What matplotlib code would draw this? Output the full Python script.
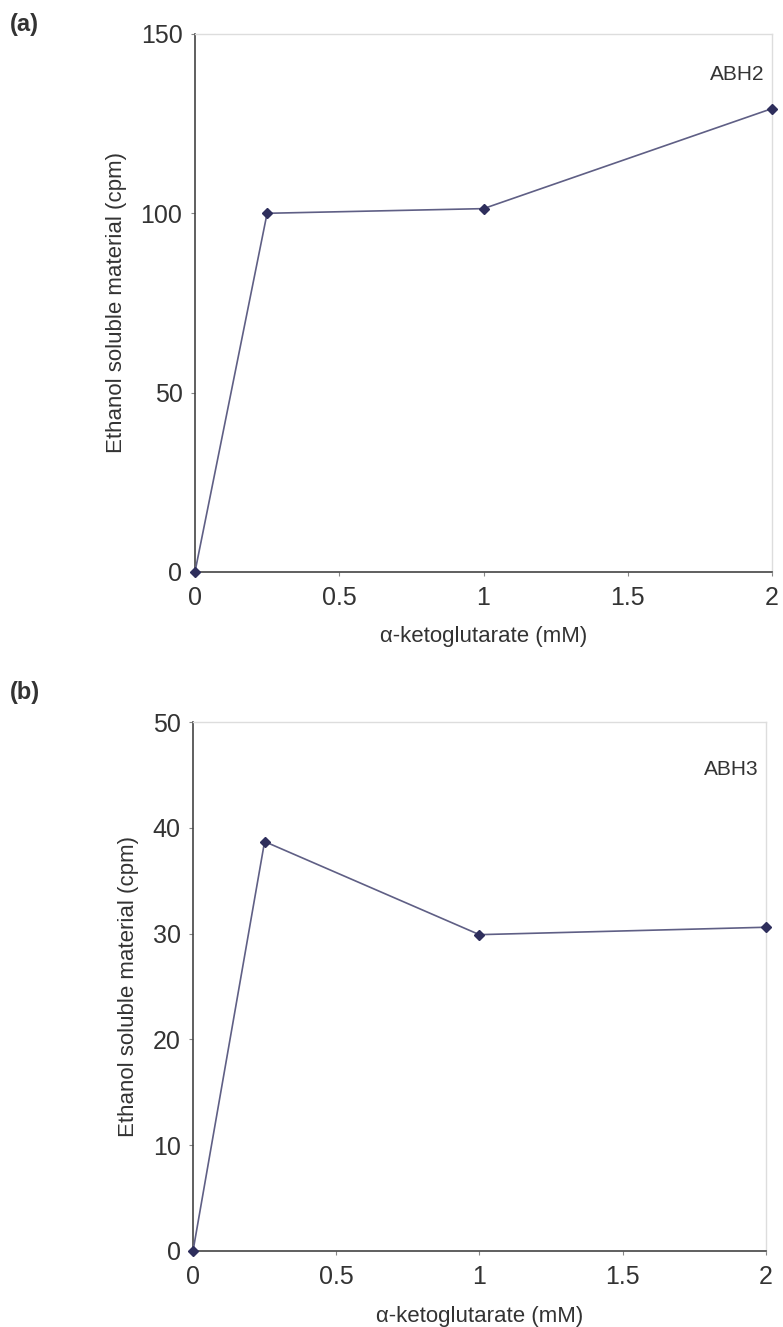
import matplotlib
matplotlib.use('Agg')
import matplotlib.pyplot as plt

plt.rcParams['font.family'] = ['Liberation Sans', 'DejaVu Sans']

# alpha-ketoglutarate concentration (mM)
akg = [0, 0.25, 1, 2]
abh2 = [0, 100, 101.3, 129.2]
abh3 = [0, 38.7, 29.9, 30.6]

xticks = [0, 0.5, 1, 1.5, 2]
xticklabels = ['0', '0.5', '1', '1.5', '2']

line_c = '#5f5f85'
mark_c = '#2e2e5c'
fs_tick = 18
fs_lab = 16

fig = plt.figure(figsize=(7.83, 13.27), dpi=100)


def panel(rect, y, ymax, ystep, name, letter, letter_y, name_y):
    ax = fig.add_axes(rect)
    ax.plot(akg, y, color=line_c, linewidth=1.2, marker='D', markersize=5,
            markerfacecolor=mark_c, markeredgecolor=mark_c, clip_on=False, zorder=3)
    ax.set_xlim(0, 2)
    ax.set_ylim(0, ymax)
    ax.set_xticks(xticks)
    ax.set_xticklabels(xticklabels)
    ax.set_yticks(list(range(0, ymax + 1, ystep)))
    ax.tick_params(labelsize=fs_tick, length=3, width=0.8, color='#888888',
                   labelcolor='#333333')
    ax.tick_params(axis='x', pad=7)
    ax.tick_params(axis='y', pad=6)
    for s in ['left', 'bottom']:
        ax.spines[s].set_color('#444444')
        ax.spines[s].set_linewidth(1.2)
    for s in ['top', 'right']:
        ax.spines[s].set_color('#dddddd')
        ax.spines[s].set_linewidth(1.0)
    ax.set_ylabel('Ethanol soluble material (cpm)', fontsize=fs_lab, color='#333333', labelpad=10)
    ax.set_xlabel('α-ketoglutarate (mM)', fontsize=fs_lab, color='#333333', labelpad=12)
    ax.text(0.94, name_y, name, transform=ax.transAxes, fontsize=15, color='#333333',
            ha='center', va='center')
    fig.text(10 / 783, letter_y, letter, fontsize=17, fontweight='bold', color='#333333',
             ha='left', va='center')
    return ax


panel([0.249, 0.569, 0.737, 0.4054], abh2, 150, 50, 'ABH2', '(a)', 1 - 25 / 1327, 0.925)
panel([0.2465, 0.0573, 0.7315, 0.3986], abh3, 50, 10, 'ABH3', '(b)', 1 - 692 / 1327, 0.91)

fig.savefig('out.png', dpi=100, facecolor='white')
